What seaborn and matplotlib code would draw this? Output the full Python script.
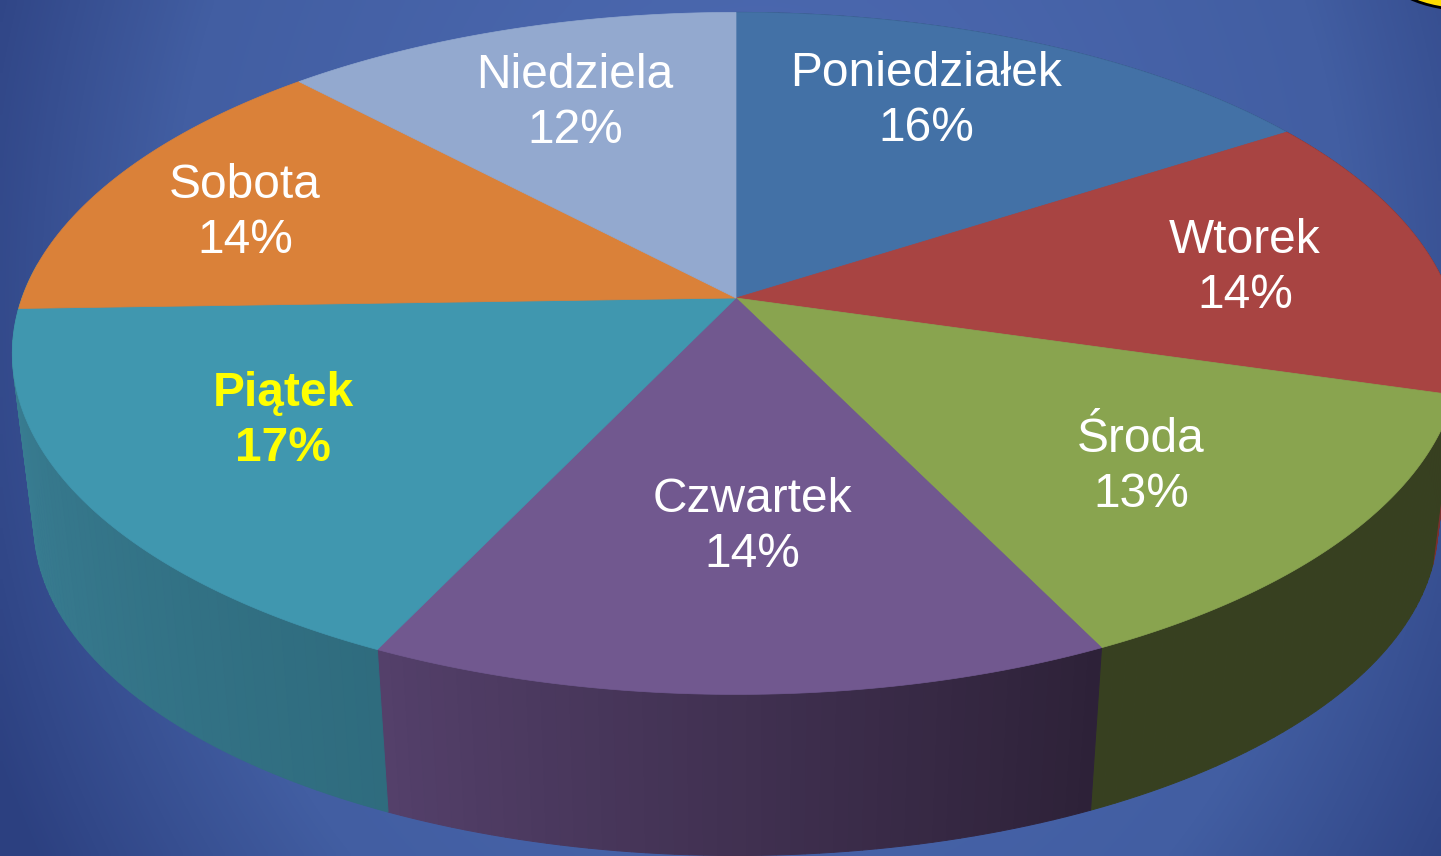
import numpy as np
import matplotlib
matplotlib.use('Agg')
import matplotlib.pyplot as plt
from matplotlib.colors import LinearSegmentedColormap, to_rgb
from matplotlib.patches import Ellipse
import seaborn as sns

days = ['Poniedziałek', 'Wtorek', 'Środa', 'Czwartek', 'Piątek', 'Sobota', 'Niedziela']
shares = [15.85, 13.65, 13.3, 14.25, 17.45, 13.5, 12.0]
top_colors = ['#4371a6', '#a84442', '#89a44f', '#71588f', '#4097af', '#da8139', '#93a9cf']
side_left = ['#2f5078', '#7a302f', '#374020', '#54406a', '#3c8399', '#9c5c28', '#6a7a96']
side_right = ['#2f5078', '#7a302f', '#374020', '#2d2138', '#2f6c7e', '#9c5c28', '#6a7a96']
label_colors = ['white', 'white', 'white', 'white', '#ffff00', 'white', 'white']
label_weights = ['normal', 'normal', 'normal', 'normal', 'bold', 'normal', 'normal']

# where each label sits, in pixels
label_xy = [(926, 101), (1245, 268), (1141, 467), (752, 527), (283, 421), (245, 213), (575, 103)]

# perspective of the disc
CX, CY = 736, 298
A, B, K = 714, 332, 0.1625
DEPTH, SHRINK = 173, 0.97


def project(deg, r=1.0, drop=0.0, scale=1.0):
    t = np.radians(deg)
    x, y = r * np.sin(t), r * np.cos(t)
    w = 1 + K * y
    return CX + scale * A * x / w, CY + drop - scale * B * y / w


def background(ax):
    xx, yy = np.meshgrid(np.linspace(0, 1441, 289), np.linspace(0, 856, 172))
    d = np.sqrt(((xx - 760) / 850) ** 2 + ((yy - 300) / 1100) ** 2)
    cmap = LinearSegmentedColormap.from_list('bg', [(0, '#4f6cb4'), (0.7, '#425ea2'), (1, '#2c4080')])
    ax.imshow(np.clip(d, 0, 1), cmap=cmap, vmin=0, vmax=1, extent=(0, 1441, 856, 0),
              aspect='auto', interpolation='bilinear', zorder=0)


sns.set_theme(style='white')
plt.rcParams['font.family'] = ['Liberation Sans', 'DejaVu Sans']

fig, ax = plt.subplots(figsize=(14.41, 8.56), dpi=100)
fig.subplots_adjust(0, 0, 1, 1)
background(ax)
ax.add_patch(Ellipse((1470, -30), 170, 80, facecolor='#ffdd00', edgecolor='black', linewidth=2, zorder=1))

edges = np.concatenate([[0], np.cumsum(shares)]) * 360 / sum(shares)
palette = sns.color_palette(top_colors)

# the rim first, cut in thin strips to get the shading
for i in range(5):
    a0, a1 = edges[i], edges[i + 1]
    if days[i] == 'Piątek':
        a1 = 276  # runs on behind the top, up to the silhouette
    steps = max(int(a1 - a0), 1)
    left = np.array(to_rgb(side_left[i]))
    right = np.array(to_rgb(side_right[i]))
    for s in reversed(range(steps)):
        t0 = a0 + (a1 - a0) * s / steps
        t1 = a0 + (a1 - a0) * (s + 1) / steps
        arc = np.linspace(t0, t1, 4)
        tx, ty = project(arc)
        bx, by = project(arc[::-1], drop=DEPTH, scale=SHRINK)
        frac = (s + 0.5) / steps
        col = right * (1 - frac) + left * frac
        ax.fill(np.r_[tx, bx], np.r_[ty, by], color=col, linewidth=0.7, zorder=2)

# top of the disc
for i in range(len(shares)):
    arc = np.linspace(edges[i], edges[i + 1], 120)
    x, y = project(arc)
    ax.fill(np.r_[CX, x], np.r_[CY, y], color=palette[i], linewidth=0.5, zorder=3)

for i, day in enumerate(days):
    ax.text(label_xy[i][0], label_xy[i][1], f'{day}\n{shares[i]:.0f}%', color=label_colors[i],
            fontweight=label_weights[i], fontsize=34.5, ha='center', va='center',
            linespacing=1.27, zorder=4)

ax.set_xlim(0, 1441)
ax.set_ylim(856, 0)
ax.axis('off')
fig.savefig('out.png', dpi=100)
